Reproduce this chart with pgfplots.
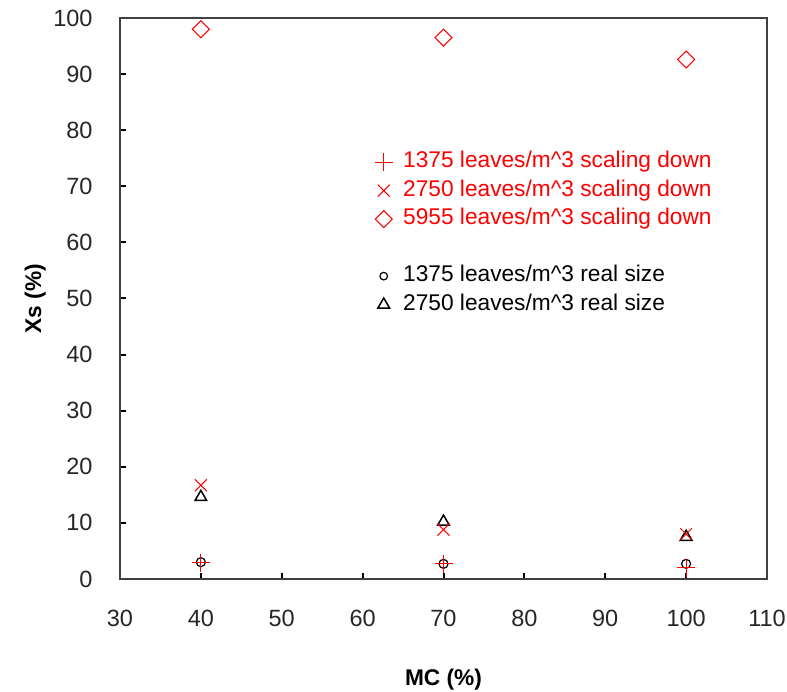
\documentclass[border=0pt]{standalone}
\usepackage{pgfplots}
\pgfplotsset{compat=1.18}
\usepackage{fontspec}
\setmainfont{Liberation Sans}
\begin{document}
\begin{tikzpicture}
\begin{axis}[
 width=647pt, height=561pt, scale only axis,
 xmin=30, xmax=110, ymin=0, ymax=100,
 xtick={30,40,...,110}, ytick={0,10,...,100},
 tick align=inside, xtick pos=bottom, ytick pos=left,
 major tick length=6pt,
 every tick/.style={black, line width=2pt},
 axis line style={draw=black!75, line width=1.3pt},
 /pgf/number format/assume math mode=true,
 tick label style={font=\fontsize{23.5}{27}\selectfont, color=black!85},
 xticklabel style={yshift=-28pt},
 yticklabel style={xshift=-24pt},
 xlabel={MC (\%)}, ylabel={Xs (\%)},
 label style={font=\bfseries\fontsize{22.7}{27}\selectfont},
 xlabel style={at={(axis description cs:0.5,-0.18)}, anchor=center},
 ylabel style={at={(axis description cs:-0.131,0.5)}, anchor=center},
 legend cell align=left,
 legend style={draw=none, fill=none, at={(axis cs:61.1,76.7)}, anchor=north west,
   font=\fontsize{22.7}{27}\selectfont, row sep=6pt,
   nodes={text height=16.5pt, text depth=5pt, inner sep=0.5pt},
   /tikz/every odd column/.append style={column sep=10pt}},
 circstyle/.style={only marks, mark=o, mark size=4.5pt, black, line width=1.2pt},
 tristyle/.style={only marks, mark=triangle, mark size=6.7pt, black, line width=1.5pt},
]
\coordinate (O) at (rel axis cs:0,0);
% real size series (drawn first, below the red marks)
\addplot[circstyle, forget plot] coordinates {(40,3.0) (70,2.7) (100,2.7)};
\addplot[tristyle, forget plot] coordinates {(40,14.6) (70,10.2) (100,7.5)};
% scaling down series
\addplot[only marks, mark=+, mark size=9pt, color=red, line width=1.2pt, mark options={draw=red, solid}] coordinates {(40,2.9) (70,2.7) (100,2.0)};
\addlegendentry{\textcolor{red}{1375 leaves/m\^{}3 scaling down}}
\addplot[only marks, mark=x, mark size=8.5pt, color=red, line width=1pt, mark options={draw=red}] coordinates {(40,16.7) (70,8.8) (100,8.0)};
\addlegendentry{\textcolor{red}{2750 leaves/m\^{}3 scaling down}}
\addplot[only marks, mark=square, mark size=6pt, color=red, line width=1pt, mark options={draw=red, rotate=45}] coordinates {(40,98.0) (70,96.5) (100,92.6)};
\addlegendentry{\textcolor{red}{5955 leaves/m\^{}3 scaling down}}
\addlegendimage{empty legend}
\addlegendentry{}
\addlegendimage{circstyle, mark size=3.8pt}
\addlegendentry{1375 leaves/m\^{}3 real size}
\addlegendimage{tristyle}
\addlegendentry{2750 leaves/m\^{}3 real size}
\end{axis}
\pgfresetboundingbox
\path ([shift={(-120pt,-113pt)}]O) rectangle ([shift={(667pt,579pt)}]O);
\end{tikzpicture}
\end{document}
